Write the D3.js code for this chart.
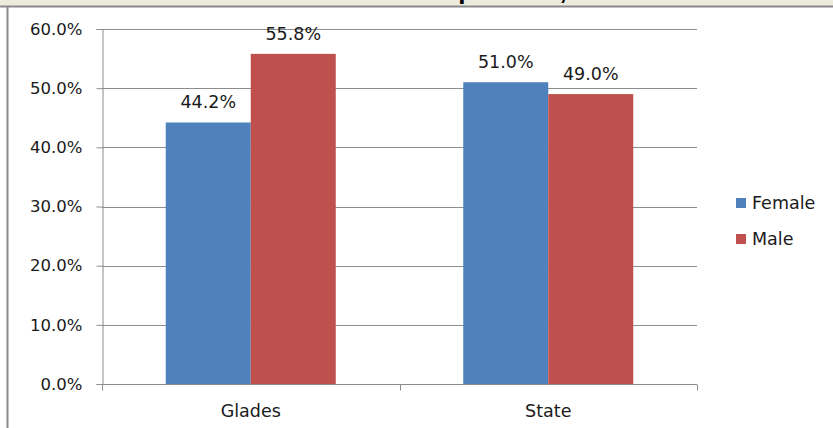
<!DOCTYPE html>
<html>
<head>
<meta charset="utf-8">
<script src="https://cdn.jsdelivr.net/npm/d3@7"></script>
<style>
  html, body { margin: 0; padding: 0; background: #ffffff; }
  svg { display: block; }
  text { font-family: "DejaVu Sans", "Noto Sans", sans-serif; fill: #1a1a1a; }
</style>
</head>
<body>
<svg id="chart" width="833" height="428"></svg>
<script>
// Share of students by gender
const categories = ["Glades", "State"];
const seriesNames = ["Female", "Male"];
const femaleValues = [44.2, 51.0];
const maleValues = [55.8, 49.0];
const yTicks = [0, 10, 20, 30, 40, 50, 60];
const colors = ["#4F81BD", "#C0504D"];

const rows = categories.map((c, i) => ({
  category: c,
  values: [
    { name: seriesNames[0], value: femaleValues[i] },
    { name: seriesNames[1], value: maleValues[i] }
  ]
}));

const svg = d3.select("#chart");

// frame: title strip and border
svg.append("rect").attr("x", 0).attr("y", 0).attr("width", 833).attr("height", 6)
  .attr("fill", "#ECEBDE");
svg.append("text").attr("x", 467).attr("y", -1).attr("text-anchor", "middle")
  .style("font-family", "Liberation Sans, Arial, sans-serif")
  .style("font-weight", "bold").style("font-size", "26px").style("fill", "#000")
  .text("Gender Composition, 2010");
svg.append("line").attr("x1", 0).attr("x2", 833).attr("y1", 6.5).attr("y2", 6.5)
  .attr("stroke", "#8a8a8a").attr("stroke-width", 2);
svg.append("line").attr("x1", 7.5).attr("x2", 7.5).attr("y1", 6).attr("y2", 428)
  .attr("stroke", "#8a8a8a").attr("stroke-width", 2);

const plot = { left: 102, right: 697, top: 29, bottom: 384 };

const x0 = d3.scaleBand().domain(categories)
  .range([plot.left, plot.right]).paddingInner(0).paddingOuter(0);
const x1 = d3.scaleBand().domain(seriesNames)
  .range([0, x0.bandwidth()]).paddingInner(0).paddingOuter(0.75);
const y = d3.scaleLinear().domain([0, 60]).range([plot.bottom, plot.top]);

// gridlines
svg.append("g").selectAll("line").data(yTicks.filter(t => t > 0)).join("line")
  .attr("x1", plot.left).attr("x2", plot.right)
  .attr("y1", d => Math.round(y(d)) + 0.5).attr("y2", d => Math.round(y(d)) + 0.5)
  .attr("stroke", "#8c8c8c").attr("stroke-width", 1);

// bars
const groups = svg.append("g").selectAll("g").data(rows).join("g")
  .attr("transform", d => `translate(${x0(d.category)},0)`);
groups.selectAll("rect").data(d => d.values).join("rect")
  .attr("x", d => x1(d.name))
  .attr("y", d => y(d.value))
  .attr("width", x1.bandwidth())
  .attr("height", d => y(0) - y(d.value))
  .attr("fill", (d, i) => colors[i]);

// value labels
groups.selectAll("text").data(d => d.values).join("text")
  .attr("x", d => x1(d.name) + x1.bandwidth() / 2)
  .attr("y", d => y(d.value) - 14)
  .attr("text-anchor", "middle")
  .style("font-size", "17.5px")
  .text(d => d.value.toFixed(1) + "%");

// y axis
const yAxis = d3.axisLeft(y).tickValues(yTicks).tickSize(6).tickPadding(14)
  .tickFormat(d => d.toFixed(1) + "%");
const yg = svg.append("g").attr("transform", `translate(${plot.left + 0.5},0)`).call(yAxis);
yg.select(".domain").attr("stroke", "#8c8c8c");
yg.selectAll(".tick line").attr("stroke", "#8c8c8c");
yg.selectAll(".tick text").style("font-size", "16.5px").attr("fill", "#1a1a1a")
  .style("font-family", "DejaVu Sans, Noto Sans, sans-serif");

// x axis with ticks between categories
const xg = svg.append("g").attr("transform", `translate(0,${plot.bottom + 0.5})`);
xg.append("line").attr("x1", plot.left).attr("x2", plot.right)
  .attr("stroke", "#8c8c8c");
const boundaries = [plot.left, ...categories.slice(1).map(c => x0(c)), plot.right];
xg.selectAll("line.tick").data(boundaries).join("line").attr("class", "tick")
  .attr("x1", d => Math.round(d) + 0.5).attr("x2", d => Math.round(d) + 0.5)
  .attr("y1", 0).attr("y2", 6).attr("stroke", "#8c8c8c");
xg.selectAll("text").data(categories).join("text")
  .attr("x", d => x0(d) + x0.bandwidth() / 2)
  .attr("y", 32)
  .attr("text-anchor", "middle")
  .style("font-size", "17.5px")
  .text(d => d);

// legend
const legend = svg.append("g").attr("transform", "translate(736,198)");
const items = legend.selectAll("g").data(seriesNames).join("g")
  .attr("transform", (d, i) => `translate(0,${i * 36})`);
items.append("rect").attr("width", 10).attr("height", 10)
  .attr("fill", (d, i) => colors[i]);
items.append("text").attr("x", 16).attr("y", 11)
  .style("font-size", "17.5px").text(d => d);
</script>
</body>
</html>
